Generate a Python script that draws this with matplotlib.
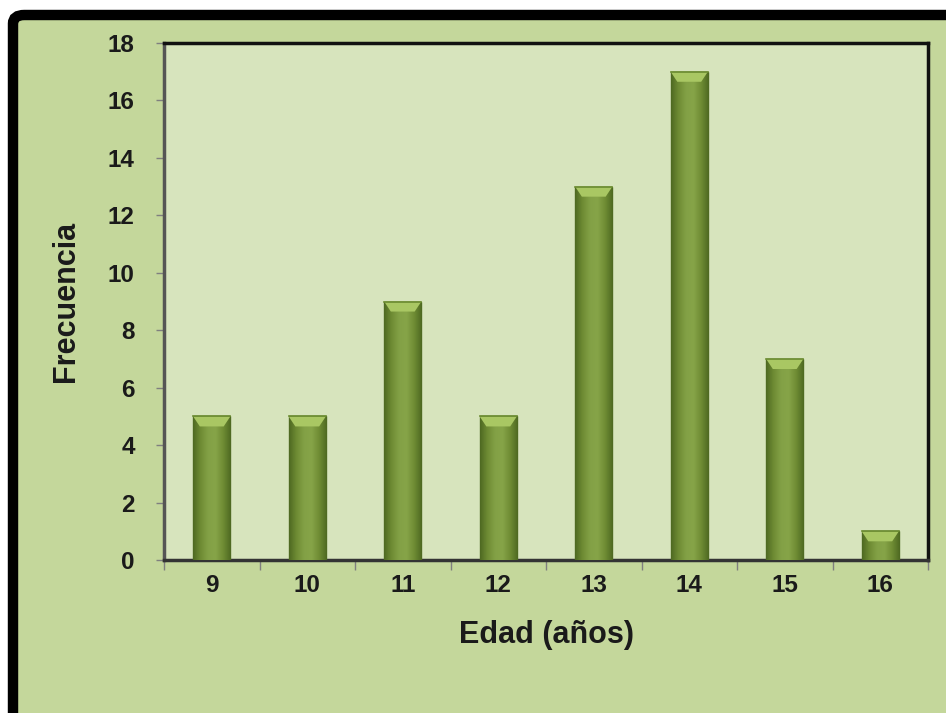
"""Bar chart: age frequency (Edad vs Frecuencia)."""

import matplotlib
matplotlib.use("Agg")
import matplotlib.pyplot as plt
import numpy as np
from matplotlib.colors import LinearSegmentedColormap
from matplotlib.patches import FancyBboxPatch

ages = [9, 10, 11, 12, 13, 14, 15, 16]
counts = [5, 5, 9, 5, 13, 17, 7, 1]
y_ticks = [0, 2, 4, 6, 8, 10, 12, 14, 16, 18]

FIG_BG = "#c4d79b"
PLOT_BG = "#d7e4bd"
TEXT = "#1a1a1a"

plt.rcParams["font.family"] = ["Liberation Sans", "DejaVu Sans"]
plt.rcParams["font.weight"] = "bold"

fig = plt.figure(figsize=(9.46, 7.13), dpi=100, facecolor="white")

# outer frame (black rounded border, cropped at right/bottom)
frame = FancyBboxPatch((13 / 946, -0.05), 1.1, 1 - 15 / 713 + 0.05,
                       boxstyle="round,pad=0,rounding_size=0.012",
                       transform=fig.transFigure, facecolor=FIG_BG,
                       edgecolor="black", linewidth=7.5, zorder=-10)
fig.patches.append(frame)

ax = fig.add_axes([164 / 946, 1 - 560 / 713, (928 - 164) / 946, (560 - 43) / 713])
ax.set_zorder(5)
ax.set_facecolor(PLOT_BG)

bar_w = 0.39
bars = ax.bar(ages, counts, width=bar_w, color="#7a983d", edgecolor="#56702a",
              linewidth=1.0, zorder=3)

# horizontal shading plus light top bevel on each bar
shade = LinearSegmentedColormap.from_list(
    "shade", ["#4f6a22", "#6f8c34", "#83a146", "#86a448", "#6f8c34", "#4f6a22"])
bevel_h = 0.35
grad = np.tile(np.linspace(0, 1, 60), (10, 1))
for rect, val in zip(bars, counts):
    x0 = rect.get_x()
    im = ax.imshow(grad, cmap=shade, aspect="auto", zorder=3.5,
                   extent=(x0, x0 + bar_w, 0, val), interpolation="bilinear")
    im.set_clip_path(rect)
    top = min(bevel_h, val * 0.5)
    ax.fill([x0, x0 + bar_w, x0 + bar_w * 0.82, x0 + bar_w * 0.18],
            [val, val, val - top, val - top], color="#a9c763", zorder=4, lw=0)
    ax.plot([x0, x0 + bar_w], [val, val], color="#6a8a30", lw=1.2, zorder=4.5)

ax.set_xlim(8.5, 16.5)
ax.set_ylim(0, 18)
ax.set_yticks(y_ticks)
ax.set_xticks(ages)
ax.set_xticks(np.arange(8.5, 16.6, 1.0), minor=True)

ax.tick_params(axis="x", which="major", length=0, pad=10, labelsize=17.5, labelcolor=TEXT)
ax.tick_params(axis="x", which="minor", length=7, width=1, color="#7f7f7f", direction="out")
ax.tick_params(axis="y", which="major", length=6, width=1, color="#7f7f7f",
               pad=15, labelsize=17.5, labelcolor=TEXT)

for side in ["top", "right"]:
    ax.spines[side].set_color("#111111")
    ax.spines[side].set_linewidth(2.5)
ax.spines["left"].set_color("#555555")
ax.spines["left"].set_linewidth(2.5)
ax.spines["bottom"].set_color("#333333")
ax.spines["bottom"].set_linewidth(2.5)

ax.set_ylabel("Frecuencia", fontsize=22, fontweight="bold", color=TEXT)
ax.set_xlabel("Edad (años)", fontsize=22, fontweight="bold", color=TEXT)
ax.yaxis.set_label_coords(-0.128, 0.5)
ax.xaxis.set_label_coords(0.501, -0.145)
ax.xaxis.label.set_va("center")
ax.yaxis.label.set_va("center")

fig.savefig("out.png", dpi=100, facecolor=fig.get_facecolor())
